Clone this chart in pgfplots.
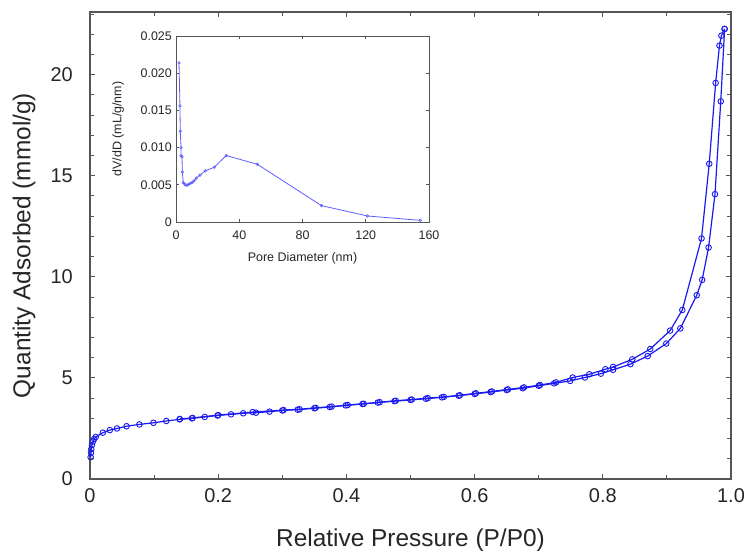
\documentclass[border=0pt]{standalone}
\usepackage{fontspec}
\setmainfont{Liberation Sans}
\usepackage{pgfplots}
\usepackage{pgfplotstable}
\pgfplotsset{compat=1.18}
\definecolor{fr}{RGB}{85,85,85}
\definecolor{mainblue}{RGB}{25,25,240}
\definecolor{insetblue}{RGB}{95,95,255}

\pgfplotstableread{
p q
0.0010 1.08
0.0015 1.30
0.0020 1.48
0.0030 1.68
0.0045 1.85
0.0065 1.98
0.0090 2.08
0.0200 2.29
0.031 2.42
0.042 2.50
0.057 2.61
0.077 2.70
0.099 2.78
0.119 2.87
0.140 2.95
0.159 3.00
0.179 3.07
0.199 3.14
0.220 3.20
0.239 3.25
0.259 3.28
0.280 3.33
0.300 3.39
0.324 3.43
0.350 3.50
0.374 3.56
0.399 3.64
0.425 3.71
0.449 3.78
0.475 3.85
0.500 3.91
0.524 3.97
0.549 4.04
0.575 4.12
0.600 4.21
0.625 4.30
0.650 4.40
0.675 4.49
0.700 4.61
0.724 4.73
0.749 4.85
0.772 5.02
0.797 5.21
0.816 5.40
0.843 5.68
0.870 6.08
0.899 6.70
0.921 7.45
0.9465 9.09
0.955 9.85
0.965 11.45
0.975 14.09
0.984 18.68
0.990 22.26
}\adsorption

\pgfplotstableread{
p q
0.990 22.26
0.985 21.93
0.982 21.44
0.976 19.59
0.966 15.59
0.954 11.90
0.924 8.36
0.905 7.34
0.874 6.43
0.846 5.92
0.816 5.54
0.804 5.43
0.779 5.18
0.753 5.02
0.727 4.78
0.702 4.65
0.677 4.53
0.652 4.43
0.627 4.33
0.602 4.24
0.577 4.14
0.552 4.06
0.527 4.00
0.502 3.93
0.477 3.87
0.452 3.80
0.427 3.72
0.402 3.66
0.377 3.58
0.352 3.52
0.327 3.45
0.302 3.41
0.254 3.31
0.200 3.16
0.160 3.02
0.140 2.97
}\desorption

\pgfplotstableread{
d v
1.9 0.0214
2.5 0.01562
2.7 0.0122
3.2 0.0100
3.2 0.0089
3.8 0.00875
4.0 0.00673
4.6 0.0053
5.7 0.00503
6.7 0.00494
7.8 0.00503
8.8 0.00516
10.1 0.0053
11.4 0.00552
12.8 0.0059
15.2 0.0063
18.5 0.00687
24.2 0.00736
31.8 0.00893
51.4 0.00776
92.0 0.0022
121.0 0.00081
154.5 0.00022
}\psd

\begin{document}
\begin{tikzpicture}[x=1bp,y=1bp]
\useasboundingbox (0,0) rectangle (747,553);
\begin{axis}[
  at={(90bp,74bp)}, anchor=south west,
  scale only axis, width=641bp, height=467bp,
  xmin=0, xmax=1, ymin=0, ymax=23.1,
  xtick={0,0.2,0.4,0.6,0.8,1}, xticklabels={0,0.2,0.4,0.6,0.8,1.0},
  minor xtick={0.1,0.3,0.5,0.7,0.9},
  ytick={0,5,10,15,20}, yticklabels={0,5,10,15,20},
  minor ytick={1,2,3,4,6,7,8,9,11,12,13,14,16,17,18,19,21,22,23},
  tick align=inside,
  major tick length=5bp, minor tick length=4bp,
  axis line style={fr, line width=1.4bp},
  every tick/.style={fr, line width=1bp},
  ticklabel style={font=\fontsize{20}{24}\selectfont, text=black!85, inner sep=0pt},
  xticklabel style={yshift=-9bp},
  yticklabel style={xshift=-17bp},
  xlabel={Relative Pressure (P/P0)},
  ylabel={Quantity Adsorbed (mmol/g)},
  label style={font=\fontsize{24.5}{28}\selectfont, text=black!85},
  xlabel style={at={(axis description cs:0.5,-0.1306)}, anchor=center},
  ylabel style={at={(axis description cs:-0.103,0.5)}, anchor=center},
]
\addplot[mainblue, line width=1.2bp, mark=o, mark size=2.8bp, mark options={line width=0.9bp}] table[x=p,y=q] {\adsorption};
\addplot[mainblue, line width=1.2bp, mark=o, mark size=2.8bp, mark options={line width=0.9bp}] table[x=p,y=q] {\desorption};
\end{axis}
\begin{axis}[
  at={(176bp,331bp)}, anchor=south west,
  scale only axis, width=253bp, height=186bp,
  axis background/.style={fill=white},
  xmin=0, xmax=160, ymin=0, ymax=0.025,
  xtick={0,40,80,120,160}, xticklabels={0,40,80,120,160},
  ytick={0,0.005,0.01,0.015,0.02,0.025},
  yticklabels={0,0.005,0.010,0.015,0.020,0.025},
  scaled y ticks=false,
  tick align=inside, major tick length=3bp,
  axis line style={fr, line width=0.9bp},
  every tick/.style={fr, line width=0.7bp},
  ticklabel style={font=\fontsize{12.5}{15}\selectfont, text=black!85, inner sep=0pt},
  xticklabel style={yshift=-9bp},
  yticklabel style={xshift=-4bp},
  xlabel={Pore Diameter (nm)},
  ylabel={dV/dD (mL/g/nm)},
  label style={font=\fontsize{12.5}{15}\selectfont, text=black!85},
  xlabel style={at={(axis description cs:0.5,-0.194)}, anchor=center},
  ylabel style={at={(axis description cs:-0.229,0.5)}, anchor=center},
]
\addplot[insetblue, line width=0.8bp, mark=o, mark size=1.3bp, mark options={line width=0.6bp}] table[x=d,y=v] {\psd};
\end{axis}
\end{tikzpicture}
\end{document}
